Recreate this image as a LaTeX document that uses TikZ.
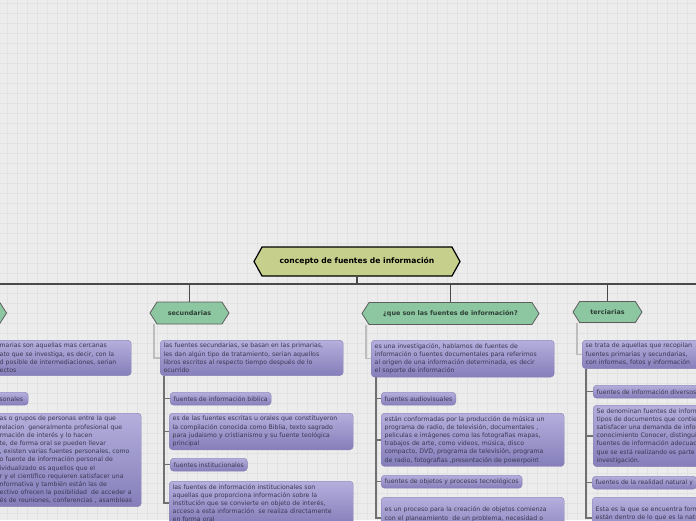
\documentclass[tikz,border=0pt]{standalone}
\usepackage{fontspec}
\usepackage{xcolor}
\usepackage{tikz}
\usetikzlibrary{positioning,shapes.symbols}
\newfontfamily\boxfont{DejaVu Sans}
\definecolor{paper}{HTML}{ECECEC}
\definecolor{gridc}{HTML}{E2E2E2}
\definecolor{rootF}{HTML}{C6CF8B}
\definecolor{kidF}{HTML}{8CC7A1}
\definecolor{kidE}{HTML}{5E5E5E}
\definecolor{kidT}{HTML}{2F3F36}
\definecolor{boxT}{HTML}{B4AFDC}
\definecolor{boxB}{HTML}{857EBA}
\definecolor{boxE}{HTML}{8781B3}
\definecolor{boxTx}{HTML}{3A3752}
\definecolor{busC}{HTML}{4A4A4A}
\definecolor{lnkL}{HTML}{BDBDBD}
\definecolor{lnkD}{HTML}{707070}

\begin{document}
\begin{tikzpicture}[
  x=1pt, y=-1pt,
  root/.style={
    signal, signal to=east and west, signal pointer angle=122,
    draw=black, line width=1.2pt, fill=rootF,
    minimum width=206pt, minimum height=29pt, inner sep=0pt,
    font=\boxfont\bfseries\fontsize{7.6}{9}\selectfont
  },
  kid/.style={
    signal, signal to=east and west, signal pointer angle=115,
    draw=kidE, line width=0.8pt, fill=kidF,
    minimum height=22pt, inner sep=0pt, text=kidT,
    font=\boxfont\bfseries\fontsize{6.4}{8}\selectfont
  },
  desc/.style={
    draw=boxE, rounded corners=3.5pt, top color=boxT, bottom color=boxB,
    text=boxTx, align=left, inner xsep=3.5pt, inner ysep=3pt,
    anchor=north west, font=\boxfont\fontsize{6.2}{8.2}\selectfont
  },
  tag/.style={desc, minimum height=13pt, inner ysep=1.5pt},
  bus/.style={busC, line width=1.2pt},
  lnk/.style={lnkL, line width=1.5pt},
  br/.style={lnkD, line width=1.5pt}
]
\useasboundingbox (0,0) rectangle (696,520);
\clip (0,0) rectangle (696,520);
\fill[paper] (0,0) rectangle (696,520);
\foreach \gx in {7,17,...,697} \draw[gridc, line width=0.7pt] (\gx,0) -- (\gx,520);
\foreach \gy in {3,13,...,523} \draw[gridc, line width=0.7pt] (0,\gy) -- (696,\gy);

% Hexagons
\node[root] (root) at (357,261.5) {concepto de fuentes de información};
\node[kid,minimum width=70pt,anchor=east] (prim) at (7,313) {};
\node[kid,minimum width=79pt] (sec) at (189.5,313) {secundarias};
\node[kid,minimum width=177pt] (que) at (450.5,313.5)
  {¿que son las fuentes de información?};
\node[kid,minimum width=69pt,minimum height=21pt] (terc) at (607.5,312)
  {terciarias};

\coordinate (busL) at (-5,284);
\coordinate (busR) at (701,284);

% Primarias (left, cut)
\node[desc,text width=128pt] (primd) at (-4,340)
  {marias son aquellas mas cercanas\\
   ato que se investiga, es decir, con la\\
   d posible de intermediaciones, serian\\
   ectos};
\node[tag,text width=25pt] (prims) at (-4,392) {sonales};
\node[desc,text width=138pt] (primsd) at (-4,413)
  {as o grupos de personas entre la que\\
   relacion\ \ generalmente profesional que\\
   rmación de interés y lo hacen\\
   te, de forma oral se pueden llevar\\
   , existen varias fuentes personales, como\\
   o fuente de información personal de\\
   ividualizado es aquellos que el\\
   r y el científico requieren satisfacer una\\
   nformativa y también están las de\\
   ectivo ofrecen la posibilidad\ \ de acceder a\\
   és de reuniones, conferencias , asambleas};

% Secundarias
\node[desc,text width=176pt] (secd) at (160,340)
  {las fuentes secundarias, se basan en las primarias,\\
   les dan algún tipo de tratamiento, serian aquellos\\
   libros escritos al respecto tiempo después de lo\\
   ocurrido};
\node[tag] (secb) at (170,392) {fuentes de información biblica};
\node[desc,text width=177pt] (secbd) at (169,413)
  {es de las fuentes escritas u orales que constituyeron\\
   la compilación conocida como Biblia, texto sagrado\\
   para judaismo y cristianismo y su fuente teológica\\
   principal};
\node[tag] (seci) at (170,458) {fuentes institucionales};
\node[desc,text width=177pt] (secid) at (169,481)
  {las fuentes de información institucionales son\\
   aquellas que proporciona información sobre la\\
   institución que se convierte en objeto de interés,\\
   acceso a esta información\ \ se realiza directamente\\
   en forma oral};

% Que son
\node[desc,text width=176pt] (qued) at (371,340)
  {es una investigación, hablamos de fuentes de\\
   información o fuentes documentales para referirnos\\
   al origen de una información determinada, es decir\\
   el soporte de información};
\node[tag] (quea) at (381,392) {fuentes audiovisuales};
\node[desc,text width=176pt] (quead) at (381,413)
  {están conformadas por la producción de música un\\
   programa de radio, de televisión, documentales ,\\
   peliculas e imágenes como las fotografias mapas,\\
   trabajos de arte, como videos, música, disco\\
   compacto, DVD, programa de televisión, programa\\
   de radio, fotografias ,presentación de powerpoint};
\node[tag] (queo) at (381,475) {fuentes de objetos y procesos tecnológicos};
\node[desc,text width=176pt,minimum height=42pt] (queod) at (381,497)
  {es un proceso para la creación de objetos comienza\\
   con el planeamiento\ \ de un problema, necesidad o\\
   situación que hay que solucionar mediante el diseño};

% Terciarias (right, cut)
\node[desc,text width=200pt] (terd) at (582,340)
  {se trata de aquellas que recopilan\\
   fuentes primarias y secundarias,\\
   con informes, fotos y información};
\node[tag] (terv) at (593,385) {fuentes de información diversos};
\node[desc,text width=200pt] (tervd) at (593,405)
  {Se denominan fuentes de información\\
   tipos de documentos que contienen\\
   satisfacer una demanda de información\\
   conocimiento Conocer, distinguir\\
   fuentes de información adecuadas\\
   que se está realizando es parte\\
   investigación.};
\node[tag] (terr) at (592,476) {fuentes de la realidad natural y};
\node[desc,text width=200pt,minimum height=42pt] (terrd) at (592,497)
  {Esta es la que se encuentra formada\\
   están dentro de lo que es la naturaleza\\
   decir que existen en esta misma};

% Bus
\draw[bus] (busL) -- (busR);
\draw[bus] (root.south) -- (root.south |- busL);
\draw[bus] (prim.north) -- (prim.north |- busL);
\draw[bus] (sec.north) -- (sec.north |- busL);
\draw[bus] (que.north) -- (que.north |- busL);
\draw[bus] (terc.north) -- (terc.north |- busL);

% Links to first boxes
\draw[lnk] ([xshift=-6pt]primd.west |- prim.south) |- (primd.west);
\draw[lnk] ([xshift=-6pt]secd.west |- sec.south) |- (secd.west);
\draw[lnk] ([xshift=-5pt]qued.west |- que.south) |- (qued.west);
\draw[lnk] ([xshift=-5pt]terd.west |- terc.south) |- (terd.west);

% Branches
\draw[br] ([xshift=4pt]secd.south west) |- (secb.west);
\draw[br] ([xshift=4pt]secd.south west) |- (secbd.west);
\draw[br] ([xshift=4pt]secd.south west) |- (seci.west);
\draw[br] ([xshift=4pt]secd.south west) |- (secid.west);
\draw[br] ([xshift=5pt]qued.south west) |- (quea.west);
\draw[br] ([xshift=5pt]qued.south west) |- (quead.west);
\draw[br] ([xshift=5pt]qued.south west) |- (queo.west);
\draw[br] ([xshift=5pt]qued.south west) |- (queod.west);
\draw[br] ([xshift=4pt]terd.south west) |- (terv.west);
\draw[br] ([xshift=4pt]terd.south west) |- (tervd.west);
\draw[br] ([xshift=4pt]terd.south west) |- (terr.west);
\draw[br] ([xshift=4pt]terd.south west) |- (terrd.west);
\end{tikzpicture}
\end{document}
